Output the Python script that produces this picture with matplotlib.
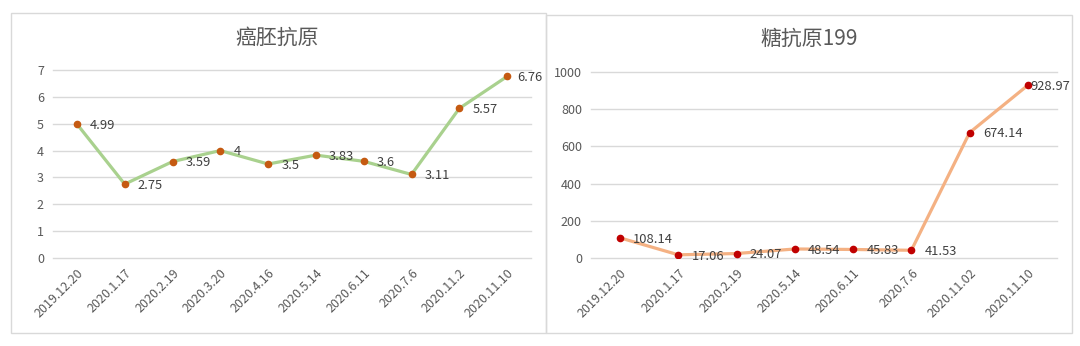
import matplotlib.pyplot as plt
from matplotlib.patches import Rectangle

plt.rcParams['font.family'] = ['Noto Sans CJK SC', 'DejaVu Sans']

# left chart: 癌胚抗原
cea_dates  = ['2019.12.20', '2020.1.17', '2020.2.19', '2020.3.20', '2020.4.16',
              '2020.5.14', '2020.6.11', '2020.7.6', '2020.11.2', '2020.11.10']
cea_values = [4.99, 2.75, 3.59, 4, 3.5, 3.83, 3.6, 3.11, 5.57, 6.76]
cea_labels = ['4.99', '2.75', '3.59', '4', '3.5', '3.83', '3.6', '3.11', '5.57', '6.76']

# right chart: 糖抗原199
ca_dates  = ['2019.12.20', '2020.1.17', '2020.2.19', '2020.5.14', '2020.6.11',
             '2020.7.6', '2020.11.02', '2020.11.10']
ca_values = [108.14, 17.06, 24.07, 48.54, 45.83, 41.53, 674.14, 928.97]
ca_labels = ['108.14', '17.06', '24.07', '48.54', '45.83', '41.53', '674.14', '928.97']

W, H = 1080, 346
fig = plt.figure(figsize=(W / 100, H / 100), dpi=100)

# panel frames (pixel coords -> figure fraction)
def frame(x0, y0, x1, y1):
    fig.patches.append(Rectangle((x0 / W, 1 - y1 / H), (x1 - x0) / W, (y1 - y0) / H,
                                 transform=fig.transFigure, fill=False,
                                 edgecolor='#d9d9d9', lw=1.0))

frame(11, 13, 546, 333)
frame(546, 15, 1072, 333)

TXT = '#595959'
FS = 9.0


def draw(px, dates, values, labels, ylim, yticks, lcolor, mcolor, lastpad):
    x0, y0, x1, y1 = px
    ax = fig.add_axes([x0 / W, 1 - y1 / H, (x1 - x0) / W, (y1 - y0) / H])
    x = list(range(len(dates)))
    ax.plot(x, values, color=lcolor, lw=2.3, zorder=2)
    ax.plot(x, values, 'o', color=mcolor, ms=4.5, zorder=3)
    for i, (v, s) in enumerate(zip(values, labels)):
        dx = lastpad if i == len(values) - 1 else 9.5
        ax.annotate(s, (i, v), xytext=(dx, -1), textcoords='offset points',
                    ha='left', va='center', fontsize=9.3, color='#404040')
    ax.set_xlim(-0.5, len(dates) - 0.5)
    ax.set_ylim(*ylim)
    ax.set_yticks(yticks)
    ax.set_xticks(x)
    ax.set_xticklabels(dates, rotation=45, ha='right', rotation_mode='anchor',
                       fontsize=FS, color=TXT)
    ax.tick_params(axis='y', labelsize=FS, labelcolor=TXT, length=0, pad=6.5)
    ax.tick_params(axis='x', length=0, pad=6)
    ax.grid(axis='y', color='#d9d9d9', lw=1.0)
    for gl in ax.get_ygridlines():
        gl.set_clip_on(False)
    ax.set_axisbelow(True)
    for sp in ax.spines.values():
        sp.set_visible(False)
    return ax


draw((53, 70, 531, 258), cea_dates, cea_values, cea_labels,
     (0, 7), range(0, 8), '#a9d18e', '#c55a11', 7)
draw((591, 72, 1057, 258), ca_dates, ca_values, ca_labels,
     (0, 1000), range(0, 1001, 200), '#f4b183', '#c00000', 1.5)

fig.text(277 / W, 1 - 38 / H, '癌胚抗原', ha='center', va='center', fontsize=15, color=TXT)
fig.text(809 / W, 1 - 39 / H, '糖抗原199', ha='center', va='center', fontsize=15, color=TXT)

fig.savefig('out.png', dpi=100, facecolor='white')
